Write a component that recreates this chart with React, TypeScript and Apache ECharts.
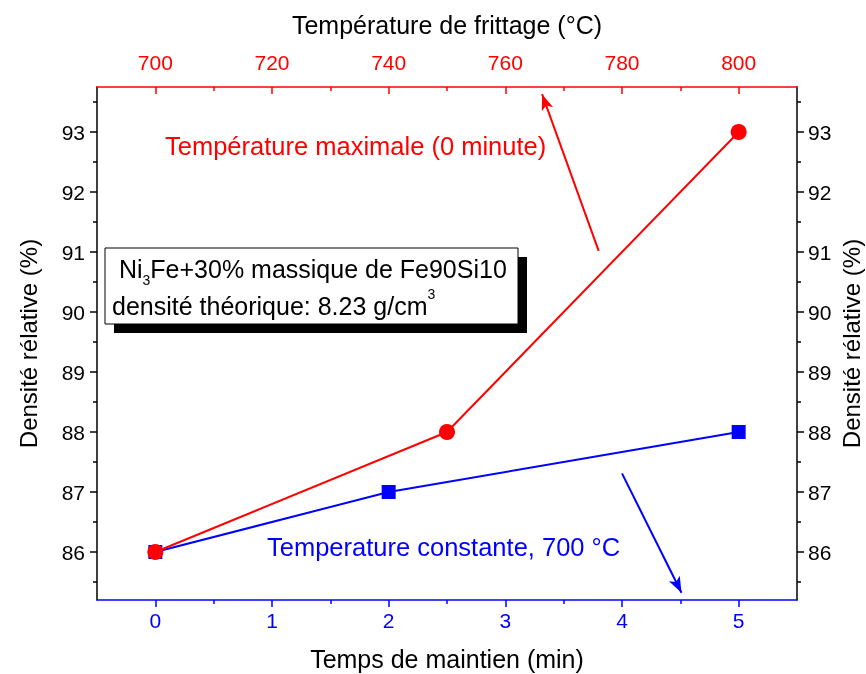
import React, { useEffect, useRef } from "react";
import * as echarts from "echarts";

// Data
const timeMinutes = [0, 2, 5];
const densityConstTemp = [86, 87, 88];
const sinterTemps = [700, 750, 800];
const densityMaxTemp = [86, 88, 93];

const bottomTicks = [0, 1, 2, 3, 4, 5];
const bottomMinor = [0.5, 1.5, 2.5, 3.5, 4.5];
const topTicks = [700, 720, 740, 760, 780, 800];
const topMinor = [710, 730, 750, 770, 790];
const yTicks = [86, 87, 88, 89, 90, 91, 92, 93];
const yMinor = [85.5, 86.5, 87.5, 88.5, 89.5, 90.5, 91.5, 92.5, 93.5];

// annotation arrows (data coords)
const redArrow = [[776, 91.02], [766.3, 93.63]];
const blueArrow = [[4.0, 87.31], [4.51, 85.32]];

const RED = "#ff0000";
const BLUE = "#0000ff";
const FONT = "Liberation Sans, Arial, sans-serif";

export default function App() {
  const ref = useRef<HTMLDivElement>(null);
  useEffect(() => {
    if (!ref.current) return;
    const chart = echarts.init(ref.current, undefined, { renderer: "svg" });
    const yMin = 85.2;
    const yMax = 93.75;
    const yBase = (pos: "left" | "right", minor: boolean) => ({
      type: "value",
      position: pos,
      min: yMin,
      max: yMax,
      splitLine: { show: false },
      axisLine: { show: !minor, onZero: false, lineStyle: { color: "#000", width: 1.5 } },
      axisTick: {
        show: true,
        inside: false,
        length: minor ? 4 : 7,
        customValues: minor ? yMinor : yTicks,
        lineStyle: { color: "#000", width: 1.5 },
      },
      axisLabel: {
        show: !minor,
        customValues: yTicks,
        color: "#000",
        fontSize: 21,
        fontFamily: FONT,
        margin: pos === "left" ? 12 : 11,
      },
      ...(minor
        ? {}
        : {
            name: "Densité rélative (%)",
            nameLocation: "middle",
            nameGap: pos === "left" ? 57 : 42,
            nameRotate: 90,
            nameMoveOverlap: false,
            nameTextStyle: { color: "#000", fontSize: 24, fontFamily: FONT, lineHeight: 24 },
          }),
    });

    const option: any = {
      animation: false,
      grid: { left: 97, right: 69, top: 87, bottom: 74, containLabel: false, outerBoundsMode: "none" },
      xAxis: [
        {
          type: "value",
          position: "bottom",
          min: -0.5,
          max: 5.5,
          splitLine: { show: false },
          axisLine: { onZero: false, lineStyle: { color: BLUE, width: 1.5 } },
          axisTick: { inside: false, length: 7, customValues: bottomTicks, lineStyle: { color: BLUE, width: 1.5 } },
          axisLabel: { customValues: bottomTicks, color: BLUE, fontSize: 21, fontFamily: FONT, margin: 10 },
          name: "Temps de maintien (min)",
          nameLocation: "middle",
          nameGap: 46,
          nameTextStyle: { color: "#000", fontSize: 25, fontFamily: FONT },
        },
        {
          type: "value",
          position: "top",
          min: 690,
          max: 810,
          splitLine: { show: false },
          axisLine: { onZero: false, lineStyle: { color: RED, width: 1.5 } },
          axisTick: { inside: true, length: 7, customValues: topTicks, lineStyle: { color: RED, width: 1.5 } },
          axisLabel: { customValues: topTicks, color: RED, fontSize: 21, fontFamily: FONT, margin: 14 },
          name: "Température de frittage (°C)",
          nameLocation: "middle",
          nameGap: 50,
          nameTextStyle: { color: "#000", fontSize: 25, fontFamily: FONT },
        },
        {
          type: "value",
          position: "bottom",
          min: -0.5,
          max: 5.5,
          splitLine: { show: false },
          axisLine: { show: false, onZero: false },
          axisTick: { inside: false, length: 4, customValues: bottomMinor, lineStyle: { color: BLUE, width: 1.5 } },
          axisLabel: { show: false },
        },
        {
          type: "value",
          position: "top",
          min: 690,
          max: 810,
          splitLine: { show: false },
          axisLine: { show: false, onZero: false },
          axisTick: { inside: true, length: 4, customValues: topMinor, lineStyle: { color: RED, width: 1.5 } },
          axisLabel: { show: false },
        },
      ],
      yAxis: [yBase("left", false), yBase("right", false), yBase("left", true), yBase("right", true)],
      series: [
        {
          type: "line",
          xAxisIndex: 0,
          yAxisIndex: 0,
          data: timeMinutes.map((t, i) => [t, densityConstTemp[i]]),
          symbol: "rect",
          symbolSize: 14,
          lineStyle: { color: BLUE, width: 2 },
          itemStyle: { color: BLUE },
          markLine: {
            silent: true,
            symbol: ["none", "arrow"],
            symbolSize: [9, 16],
            label: { show: false },
            lineStyle: { color: BLUE, width: 2, type: "solid" },
            data: [[{ coord: blueArrow[0] }, { coord: blueArrow[1] }]],
          },
          z: 2,
        },
        {
          type: "line",
          xAxisIndex: 1,
          yAxisIndex: 0,
          data: sinterTemps.map((t, i) => [t, densityMaxTemp[i]]),
          symbol: "circle",
          symbolSize: 16,
          lineStyle: { color: RED, width: 2 },
          itemStyle: { color: RED },
          markLine: {
            silent: true,
            symbol: ["none", "arrow"],
            symbolSize: [9, 16],
            label: { show: false },
            lineStyle: { color: RED, width: 2, type: "solid" },
            data: [[{ coord: redArrow[0] }, { coord: redArrow[1] }]],
          },
          z: 3,
        },
      ],
      graphic: [
        {
          type: "text",
          x: 165,
          y: 146,
          style: { text: "Température maximale (0 minute)", fill: RED, fontSize: 25.5, fontFamily: FONT, verticalAlign: "middle" },
        },
        {
          type: "text",
          x: 267,
          y: 547,
          style: { text: "Temperature constante, 700 °C", fill: BLUE, fontSize: 25.5, fontFamily: FONT, verticalAlign: "middle" },
        },
        {
          type: "rect",
          shape: { x: 114, y: 257, width: 413, height: 76 },
          style: { fill: "#000" },
          z: 10,
        },
        {
          type: "rect",
          shape: { x: 105, y: 248, width: 413, height: 76 },
          style: { fill: "#fff", stroke: "#000", lineWidth: 1 },
          z: 11,
        },
        {
          type: "text",
          x: 112,
          y: 250,
          z: 12,
          style: {
            text: " Ni{sub|3}Fe+30% massique de Fe90Si10\ndensité théorique: 8.23 g/cm{sup|3}",
            fill: "#000",
            fontSize: 25,
            fontFamily: FONT,
            lineHeight: 37,
            rich: {
              sub: { fontSize: 14, fontFamily: FONT, verticalAlign: "bottom", lineHeight: 10, fill: "#000" },
              sup: { fontSize: 14, fontFamily: FONT, verticalAlign: "top", lineHeight: 14, fill: "#000" },
            },
          },
        },
      ],
    };
    chart.setOption(option);
    return () => chart.dispose();
  }, []);
  return <div ref={ref} style={{ position: "fixed", left: 0, top: 0, width: 866, height: 674 }} />;
}
